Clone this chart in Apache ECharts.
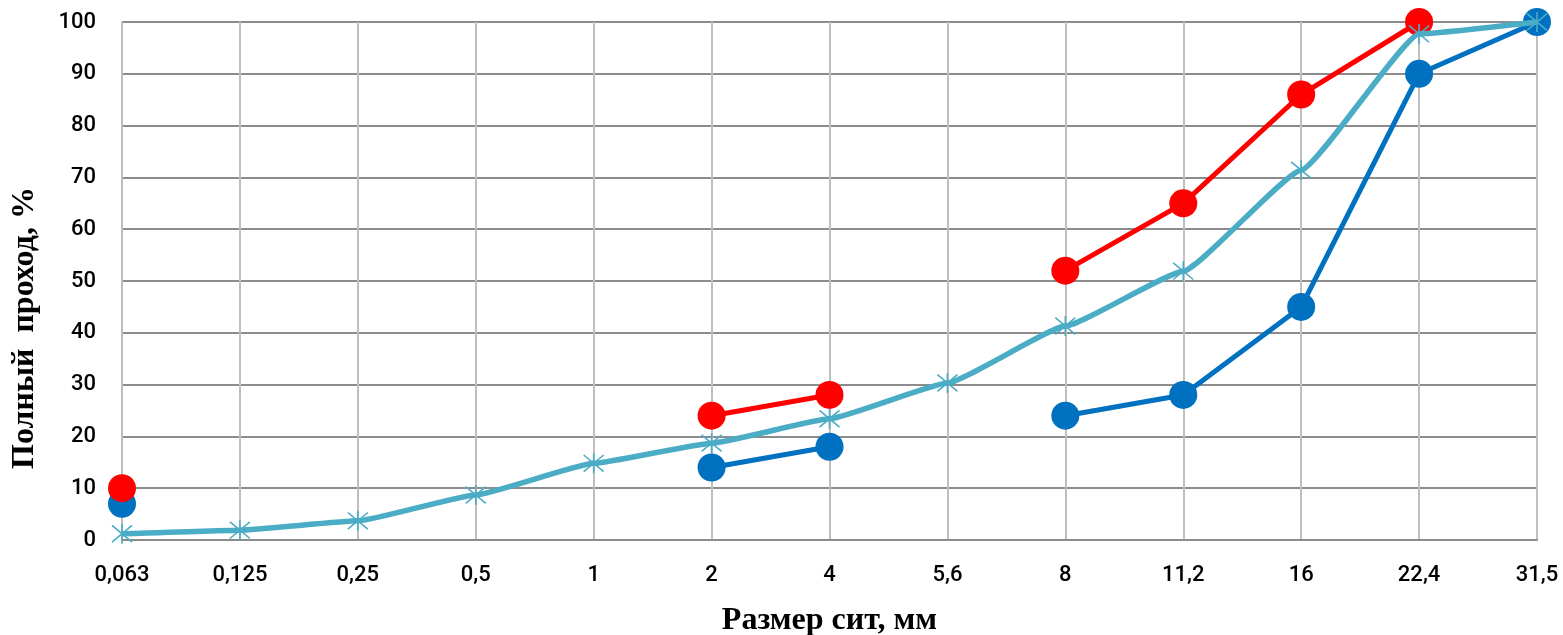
<!DOCTYPE html>
<html><head><meta charset="utf-8">
<script src="https://cdn.jsdelivr.net/npm/echarts@6/dist/echarts.min.js"></script>
<style>html,body{margin:0;padding:0;background:#fff}#c{width:1563px;height:635px}</style>
</head><body><div id="c"></div>
<script>
const categories = ['0,063','0,125','0,25','0,5','1','2','4','5,6','8','11,2','16','22,4','31,5'];
const upperBound = [10, null, null, null, null, 24, 28, null, 52, 65, 86, 100, null];
const lowerBound = [7, null, null, null, null, 14, 18, null, 24, 28, 45, 90, 100];
const mixCurve = [1.2, 1.9, 3.7, 8.7, 14.8, 18.7, 23.4, 30.3, 41.3, 51.9, 71.4, 97.7, 100];
const yTicks = [0, 10, 20, 30, 40, 50, 60, 70, 80, 90, 100];

const chart = echarts.init(document.getElementById('c'));
const asterisk = 'path://M0,0L10,10M10,0L0,10M5,-1L5,11';
const lblFont = {fontFamily: 'Roboto', fontSize: 22, fontWeight: 500, color: '#000'};
chart.setOption({
  animation: false,
  grid: {left: 122, right: 26, top: 22, bottom: 95, containLabel: false, outerBoundsMode: 'none'},
  xAxis: {
    type: 'category', data: categories, boundaryGap: false,
    name: 'Размер сит, мм', nameLocation: 'middle', nameGap: 65,
    nameTextStyle: {fontFamily: 'Liberation Serif', fontWeight: 'bold', fontSize: 32, color: '#000'},
    axisLine: {show: true, lineStyle: {color: '#8c8c8c', width: 2}},
    axisTick: {show: false},
    axisLabel: Object.assign({margin: 24}, lblFont),
    splitLine: {show: true, lineStyle: {color: '#bfbfbf', width: 2}}
  },
  yAxis: {
    type: 'value', min: 0, max: 100, interval: 10,
    name: 'Полный  проход, %', nameLocation: 'middle', nameGap: 81, nameRotate: 90,
    nameTextStyle: {fontFamily: 'Liberation Serif', fontWeight: 'bold', fontSize: 32, color: '#000', padding: [0, 94, 0, 0]},
    axisLine: {show: false}, axisTick: {show: false},
    axisLabel: Object.assign({margin: 26, formatter: v => yTicks.includes(v) ? String(v) : ''}, lblFont),
    splitLine: {show: true, lineStyle: {color: '#8c8c8c', width: 2}}
  },
  series: [
    {name: 'lower', type: 'line', data: lowerBound, connectNulls: false,
     symbol: 'circle', symbolSize: 28, showAllSymbol: true,
     lineStyle: {color: '#0070c0', width: 5}, itemStyle: {color: '#0070c0'}, z: 2},
    {name: 'upper', type: 'line', data: upperBound, connectNulls: false,
     symbol: 'circle', symbolSize: 28, showAllSymbol: true,
     lineStyle: {color: '#ff0000', width: 5}, itemStyle: {color: '#ff0000'}, z: 3},
    {name: 'mix', type: 'line', data: mixCurve, smooth: 0.12, smoothMonotone: 'x',
     symbol: asterisk, symbolSize: 20, showAllSymbol: true,
     lineStyle: {color: '#4bacc6', width: 5.5},
     itemStyle: {color: 'none', borderColor: '#4bacc6', borderWidth: 1.6}, z: 4}
  ]
});
</script></body></html>
